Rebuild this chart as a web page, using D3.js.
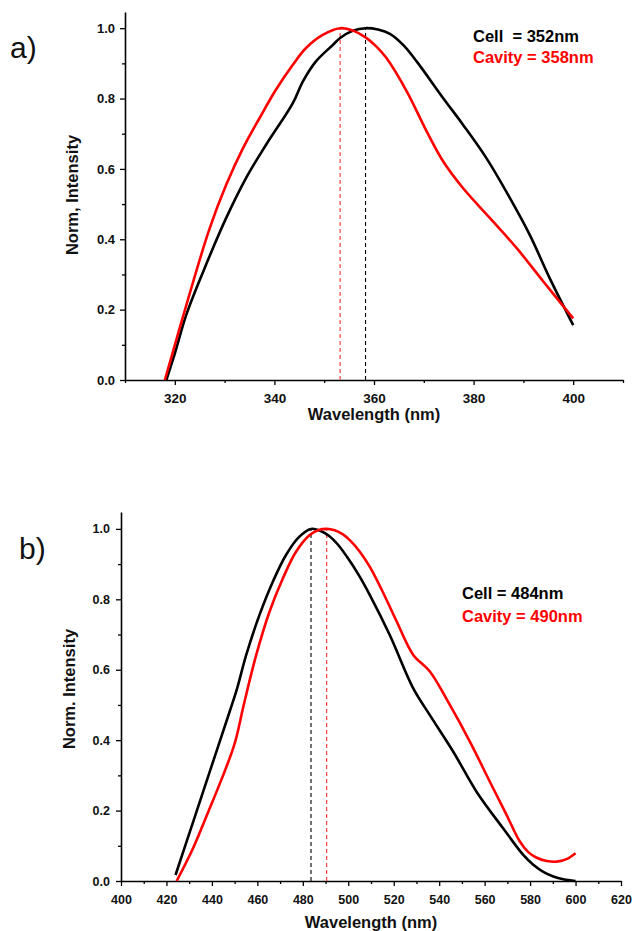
<!DOCTYPE html>
<html><head><meta charset="utf-8">
<script src="https://cdn.jsdelivr.net/npm/d3@7"></script>
<style>
body{margin:0;background:#fff}
svg{display:block}
text{font-family:"Liberation Sans",Arial,sans-serif}
</style>
</head><body>
<svg id="c" width="634" height="931"></svg>
<script>
// ---------- Panel a) data ----------
const aCellWl  = [318.3,320,322.3,325.7,330.3,334.3,338.3,343.7,345.7,348.3,351.7,353.2,355.8,358.3,360.8,363.2,365.9,368.6,373.9,377.9,382.6,387.3,391.3,395.3,400];
const aCell    = [0,0.075,0.185,0.308,0.46,0.574,0.668,0.787,0.848,0.905,0.952,0.972,0.993,1.0,0.996,0.984,0.952,0.905,0.801,0.725,0.63,0.517,0.412,0.289,0.156];
const aCavWl   = [318,323.7,327,330.3,333.7,337,340.3,343.7,346.3,349.7,353.2,355.8,358.3,360.4,362.5,366.6,370.6,373.9,377.9,383.3,388.7,394,400];
const aCavity  = [0,0.28,0.431,0.554,0.659,0.744,0.825,0.896,0.943,0.981,1.0,0.993,0.974,0.949,0.915,0.82,0.706,0.621,0.545,0.46,0.374,0.28,0.175];
const aPeaks   = [353.2, 358.3];          // cavity, cell
const aXTicks  = [320,340,360,380,400];
const aXMinor  = [310,330,350,370,390,410];
const aYTicks  = [0,0.2,0.4,0.6,0.8,1.0];
const aYMinor  = [0.1,0.3,0.5,0.7,0.9];
const aLegend  = ["Cell  = 352nm","Cavity = 358nm"];

// ---------- Panel b) data ----------
const bCellWl  = [424,432,440,448,451,455.1,460.9,466.8,472.6,478.5,483.6,487.6,491.6,495.5,499.5,504.5,509.5,518.3,528.6,535.9,546.2,556.5,568.2,577,581.4,585.8,590.2,594.6,600];
const bCell    = [0.017,0.173,0.329,0.485,0.545,0.642,0.755,0.85,0.926,0.978,1.0,0.995,0.98,0.955,0.92,0.87,0.812,0.698,0.547,0.471,0.367,0.253,0.149,0.074,0.046,0.026,0.013,0.005,0];
const bCavWl   = [424.5,431.7,439,444,450,454,459.5,465.3,471.2,477,482.9,486.7,490.5,494,497.5,501,505,509.5,515.4,521.3,528.6,535.9,544.7,553.5,562.3,569.7,575.5,579.2,582.9,587.3,591.7,596,600];
const bCavity  = [0,0.093,0.206,0.285,0.39,0.5,0.642,0.764,0.859,0.935,0.982,0.996,1.0,0.996,0.985,0.966,0.936,0.892,0.818,0.737,0.642,0.595,0.5,0.396,0.282,0.187,0.112,0.082,0.066,0.057,0.055,0.062,0.079];
const bPeaks   = [490.5, 483.6];          // cavity, cell
const bXTicks  = [400,420,440,460,480,500,520,540,560,580,600,620];
const bXMinor  = [410,430,450,470,490,510,530,550,570,590,610];
const bYTicks  = [0,0.2,0.4,0.6,0.8,1.0];
const bYMinor  = [0.1,0.3,0.5,0.7,0.9];
const bLegend  = ["Cell = 484nm","Cavity = 490nm"];

const svg = d3.select("#c");

function panel(o){
  const g = svg.append("g");
  const x = d3.scaleLinear().domain(o.xDomain).range([o.left,o.right]);
  const y = d3.scaleLinear().domain(o.yDomain).range([o.bottom,o.top]);

  // minor ticks
  g.append("g").attr("transform",`translate(0,${o.bottom})`)
    .call(d3.axisBottom(x).tickValues(o.xMinor).tickSize(3).tickFormat(""))
    .call(s=>s.select(".domain").remove())
    .call(s=>s.selectAll("line").attr("stroke-width",1.3));
  g.append("g").attr("transform",`translate(${o.left},0)`)
    .call(d3.axisLeft(y).tickValues(o.yMinor).tickSize(3).tickFormat(""))
    .call(s=>s.select(".domain").remove())
    .call(s=>s.selectAll("line").attr("stroke-width",1.3));

  // major axes
  const xa = g.append("g").attr("transform",`translate(0,${o.bottom})`)
    .call(d3.axisBottom(x).tickValues(o.xTicks).tickSize(5).tickSizeOuter(0).tickPadding(o.xPad).tickFormat(d3.format("d")));
  xa.select(".domain").attr("stroke-width",1.6);
  xa.selectAll("line").attr("stroke-width",1.3);
  xa.selectAll("text").attr("font-size",o.xFont).attr("font-weight","bold").attr("fill","#111");

  const ya = g.append("g").attr("transform",`translate(${o.left},0)`)
    .call(d3.axisLeft(y).tickValues(o.yTicks).tickSize(5).tickSizeOuter(0).tickPadding(o.yPad).tickFormat(d3.format(".1f")));
  ya.select(".domain").attr("stroke-width",1.6);
  ya.selectAll("line").attr("stroke-width",1.3);
  ya.selectAll("text").attr("font-size",o.yFont).attr("font-weight","bold").attr("fill","#111");

  // peak markers
  o.peaks.forEach((p,i)=>{
    g.append("line").attr("x1",x(p)).attr("x2",x(p)).attr("y1",y(0)).attr("y2",y(1))
      .attr("stroke",i===0?"#ff3030":"#000").attr("stroke-width",1.1).attr("stroke-dasharray","4,3");
  });

  const line = d3.line().x(d=>x(d[0])).y(d=>y(d[1])).curve(d3.curveCatmullRom.alpha(0.5));
  o.series.forEach(s=>{
    g.append("path").datum(d3.zip(s.wl,s.v)).attr("d",line)
      .attr("fill","none").attr("stroke",s.color).attr("stroke-width",2.6)
      .attr("stroke-linejoin","round").attr("stroke-linecap","butt");
  });

  // legend
  o.legend.forEach((t,i)=>{
    g.append("text").attr("x",o.legX).attr("y",o.legY + i*o.legDy)
      .attr("font-size",16.5).attr("font-weight","bold").style("white-space","pre")
      .attr("fill",i===0?"#000":"#ff0000").text(t);
  });

  // axis titles
  g.append("text").attr("x",(o.left+o.right)/2).attr("y",o.xTitleY)
    .attr("text-anchor","middle").attr("font-size",16.5).attr("font-weight","bold").attr("fill","#111").text("Wavelength (nm)");
  g.append("text").attr("transform",`translate(${o.yTitleX},${o.yTitleCy}) rotate(-90)`)
    .attr("text-anchor","middle").attr("font-size",16.5).attr("font-weight","bold").attr("fill","#111").text(o.yTitle);

  // panel label
  g.append("text").attr("x",o.labX).attr("y",o.labY)
    .attr("font-family","'Open Sans',sans-serif").attr("font-size",30).attr("fill","#111").text(o.label);
}

panel({
  xDomain:[310,410], yDomain:[0,1.046], left:125, right:623, top:12, bottom:380,
  xTicks:aXTicks, xMinor:aXMinor, yTicks:aYTicks, yMinor:aYMinor,
  xPad:8, yPad:5, xFont:13.5, yFont:13,
  peaks:aPeaks,
  series:[{wl:aCellWl,v:aCell,color:"#000"},{wl:aCavWl,v:aCavity,color:"#ff0000"}],
  legend:aLegend, legX:473, legY:42, legDy:21,
  xTitleY:420, yTitleX:78, yTitleCy:195, yTitle:"Norm, Intensity",
  label:"a)", labX:10, labY:58
});

panel({
  xDomain:[400,620], yDomain:[0,1.048], left:121, right:621, top:512, bottom:881,
  xTicks:bXTicks, xMinor:bXMinor, yTicks:bYTicks, yMinor:bYMinor,
  xPad:9, yPad:6, xFont:12.5, yFont:12.5,
  peaks:bPeaks,
  series:[{wl:bCellWl,v:bCell,color:"#000"},{wl:bCavWl,v:bCavity,color:"#ff0000"}],
  legend:bLegend, legX:462, legY:599, legDy:22.5,
  xTitleY:928, yTitleX:75, yTitleCy:689, yTitle:"Norm. Intensity",
  label:"b)", labX:19, labY:559
});
</script>
</body></html>
